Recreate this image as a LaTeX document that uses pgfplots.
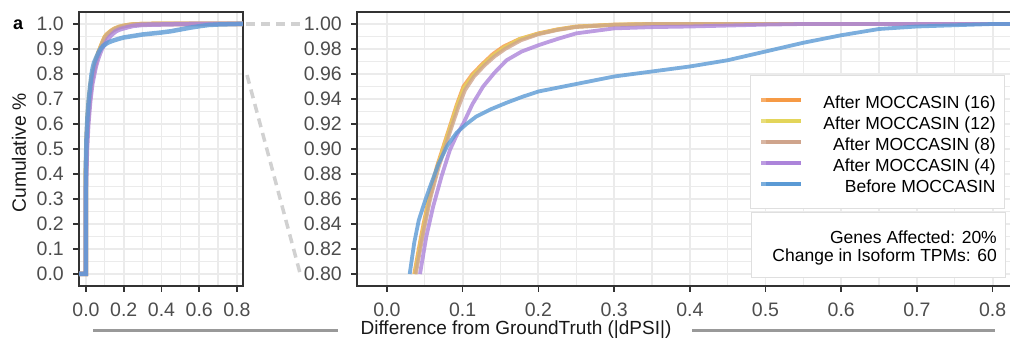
\documentclass[border=0pt]{standalone}
\usepackage{pgfplots}
\pgfplotsset{compat=1.18}
\usepackage{pgfplotstable}
\usepackage{fontspec}
\setmainfont{Liberation Sans}
\definecolor{cOrange}{HTML}{F69A45}
\definecolor{cYellow}{HTML}{E3D55A}
\definecolor{cTan}{HTML}{CFA48C}
\definecolor{cPurple}{HTML}{AC84DA}
\definecolor{cBlue}{HTML}{5B9AD5}
\definecolor{gridc}{HTML}{EBEBEB}
\definecolor{tickc}{HTML}{4D4D4D}
\definecolor{boxc}{HTML}{333333}

\pgfplotstableread{
x y
-0.05 0
0.0 0
0.0 0.42
0.004 0.55
0.01 0.64
0.018 0.71
0.027 0.77
0.036 0.80
0.045 0.83
0.055 0.86
0.066 0.886
0.075 0.903
0.083 0.918
0.092 0.935
0.101 0.950
0.113 0.960
0.127 0.9686
0.140 0.976
0.154 0.982
0.175 0.988
0.2 0.9925
0.225 0.9957
0.25 0.998
0.3 0.9995
0.35 1.0
0.85 1.0
}\tOrange
\pgfplotstableread{
x y
-0.05 0
0.0 0
0.0 0.42
0.005 0.55
0.011 0.64
0.019 0.71
0.028 0.77
0.037 0.80
0.046 0.83
0.056 0.86
0.067 0.886
0.076 0.903
0.084 0.918
0.093 0.935
0.102 0.949
0.114 0.959
0.128 0.968
0.141 0.975
0.155 0.981
0.176 0.988
0.2 0.9922
0.225 0.9955
0.25 0.9978
0.3 0.9994
0.35 1.0
0.85 1.0
}\tYellow
\pgfplotstableread{
x y
-0.05 0
0.0 0
0.0 0.41
0.005 0.54
0.012 0.63
0.020 0.70
0.029 0.765
0.038 0.80
0.047 0.83
0.057 0.86
0.068 0.885
0.077 0.902
0.085 0.917
0.094 0.933
0.103 0.947
0.115 0.958
0.129 0.967
0.142 0.974
0.156 0.980
0.177 0.987
0.2 0.9918
0.225 0.9952
0.25 0.9976
0.3 0.9993
0.35 1.0
0.85 1.0
}\tTan
\pgfplotstableread{
x y
-0.05 0
0.0 0
0.0 0.35
0.005 0.50
0.012 0.60
0.022 0.69
0.033 0.76
0.0436 0.80
0.052 0.83
0.061 0.854
0.072 0.878
0.083 0.899
0.092 0.911
0.101 0.9206
0.113 0.936
0.127 0.950
0.142 0.961
0.158 0.971
0.178 0.978
0.2 0.983
0.225 0.988
0.25 0.9925
0.3 0.9965
0.35 0.9975
0.4 0.998
0.5 0.9995
0.55 1.0
0.85 1.0
}\tPurple
\pgfplotstableread{
x y
-0.05 0
0.0 0
0.0 0.45
0.003 0.55
0.008 0.63
0.015 0.70
0.022 0.75
0.030 0.80
0.036 0.825
0.042 0.843
0.050 0.858
0.057 0.870
0.068 0.888
0.080 0.903
0.092 0.913
0.105 0.920
0.118 0.926
0.138 0.932
0.158 0.937
0.18 0.942
0.2 0.946
0.25 0.952
0.3 0.958
0.35 0.962
0.4 0.966
0.45 0.971
0.5 0.978
0.55 0.985
0.6 0.991
0.65 0.996
0.7 0.998
0.75 0.999
0.8 1.0
0.85 1.0
}\tBlue

\pgfplotsset{
  ecdfaxis/.style={
    scale only axis,
    axis line style={draw=boxc, line width=1.1pt},
    tick align=outside,
    xtick pos=bottom, ytick pos=left,
    major tick length=6pt, minor tick length=0pt,
    tick style={draw=boxc, line width=1.6pt},
    grid=both,
    major grid style={draw=gridc, line width=1.8pt},
    minor grid style={draw=gridc, line width=1.2pt},
    minor x tick num=1, minor y tick num=1,
    /pgf/number format/assume math mode=true,
    ticklabel style={font=\fontsize{19.5}{21}\selectfont, text=tickc, inner sep=0pt},
    xticklabel style={anchor=north, yshift=-11pt},
    yticklabel style={anchor=east, xshift=-9pt},
  },
}

\begin{document}
\begin{tikzpicture}[x=1pt,y=1pt]
\useasboundingbox (0,0) rectangle (1010,339);

% left panel
\begin{axis}[ecdfaxis,
  at={(79pt,53pt)}, anchor=south west,
  width=164pt, height=274pt,
  xmin=-0.037, xmax=0.832, ymin=-0.048, ymax=1.048,
  xtick={0,0.2,0.4,0.6,0.8}, ytick={0,0.1,...,1.01},
  xticklabel style={/pgf/number format/.cd, fixed, fixed zerofill, precision=1},
  yticklabel style={/pgf/number format/.cd, fixed, fixed zerofill, precision=1},
  every axis plot/.append style={line width=4.5pt, opacity=0.8},
]
\addplot[cOrange] table[x=x,y=y] {\tOrange};
\addplot[cYellow] table[x=x,y=y] {\tYellow};
\addplot[cTan] table[x=x,y=y] {\tTan};
\addplot[cPurple] table[x=x,y=y] {\tPurple};
\addplot[cBlue] table[x=x,y=y] {\tBlue};
\end{axis}

% right panel
\begin{axis}[ecdfaxis,
  at={(357pt,53pt)}, anchor=south west,
  width=655pt, height=274pt,
  xmin=-0.0396, xmax=0.8256, ymin=0.7904, ymax=1.0096,
  xtick={0,0.1,...,0.81}, ytick={0.8,0.82,...,1.001},
  xticklabel style={/pgf/number format/.cd, fixed, fixed zerofill, precision=1},
  yticklabel style={/pgf/number format/.cd, fixed, fixed zerofill, precision=2},
  restrict y to domain=0.8:1.01,
  every axis plot/.append style={line width=3.8pt, opacity=0.8},
  legend cell align=right,
  legend image code/.code={\path (0pt,0pt) -- (5pt,0pt);\draw[#1, opacity=1, line width=4pt] (5pt,0pt) -- (40pt,0pt);},
  legend style={at={(0.9893,0.770)}, anchor=north east,
    draw=gray!25, line width=0.8pt, fill=white,
    inner xsep=9pt, inner ysep=14pt, row sep=0pt,
    font=\fontsize{17.5}{20}\selectfont,
    nodes={inner sep=0pt, text height=18.8pt, text depth=2.2pt},
    /tikz/every odd column/.append style={column sep=20pt}},
]
\addplot[cOrange] table[x=x,y=y] {\tOrange};
\addplot[cYellow] table[x=x,y=y] {\tYellow};
\addplot[cTan] table[x=x,y=y] {\tTan};
\addplot[cPurple] table[x=x,y=y] {\tPurple};
\addplot[cBlue] table[x=x,y=y] {\tBlue};
\legend{After MOCCASIN (16),After MOCCASIN (12),After MOCCASIN (8),After MOCCASIN (4),Before MOCCASIN}
\end{axis}

% annotation box
\draw[draw=gray!25, line width=0.8pt, fill=white] (751,62) rectangle (1005,127);
\node[anchor=base east, inner sep=0pt, font=\fontsize{17.5}{20}\selectfont] at (997,95.7) {Genes Affected: 20\%};
\node[anchor=base east, inner sep=0pt, font=\fontsize{17.5}{20}\selectfont] at (997,77.7) {Change in Isoform TPMs: 60};

% zoom connectors
\draw[black!18, line width=3.5pt, dash pattern=on 9pt off 6pt] (246,315) -- (300,315);
\draw[black!18, line width=3.5pt, dash pattern=on 9pt off 6pt] (247,264) -- (300,66);

% bottom label and rules
\draw[black!40, line width=3pt] (93,8) -- (338,8);
\draw[black!40, line width=3pt] (692,8) -- (995,8);
\node[anchor=base, inner sep=0pt, font=\fontsize{19}{21}\selectfont, text=black!90] at (516,4) {Difference from GroundTruth (|dPSI|)};
\node[rotate=90, inner sep=0pt, font=\fontsize{19.3}{21}\selectfont, text=black!90] at (19,186) {Cumulative \%};
\node[anchor=base west, inner sep=0pt, font=\fontsize{18}{20}\selectfont\bfseries] at (13,309) {a};
\end{tikzpicture}
\end{document}
